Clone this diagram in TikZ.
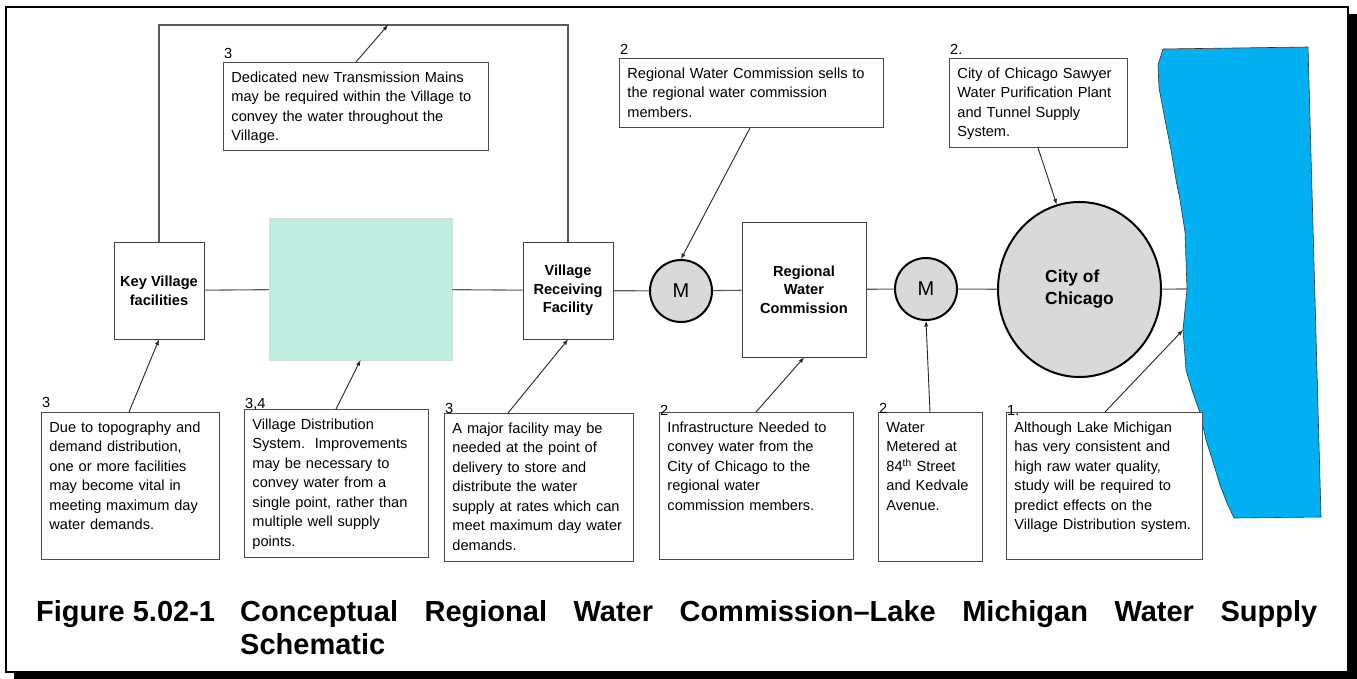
\documentclass[tikz,border=0pt]{standalone}
\usepackage{fontspec}
\setmainfont{Liberation Sans}
\usetikzlibrary{positioning,shapes.geometric}
\definecolor{poolteal}{HTML}{BEEEE2}
\definecolor{meterfill}{HTML}{D9D9D9}
\definecolor{lakeblue}{HTML}{00B0F0}

\begin{document}
\begin{tikzpicture}[
  x=1pt, y=-1pt,
  facility/.style={rectangle, draw=black!75, fill=white, line width=0.9pt, align=center, inner sep=2pt, font=\fontsize{14.6}{18.6}\selectfont\bfseries},
  meter/.style={circle, draw=black, line width=2pt, fill=meterfill, minimum size=62pt, inner sep=0pt, font=\fontsize{20}{24}\selectfont},
  note/.style={rectangle, draw=black!70, line width=0.9pt, fill=white, anchor=north west, align=left, inner xsep=8pt, inner ysep=8pt, text height=12pt, font=\fontsize{14.6}{19.5}\selectfont},
  num/.style={anchor=base west, inner sep=0pt, xshift=1pt, font=\fontsize{14.6}{17}\selectfont},
  pipe/.style={draw=black!65, line width=1.1pt},
  arrow/.style={-latex, line width=0.9pt, draw=black!85}
]
  \useasboundingbox (0,0) rectangle (1357,679);
  % page frame with shadow
  \fill (14,14) rectangle (1357,679);
  \draw [line width=2.5pt, fill=white] (6,7) rectangle (1348,672);

  % Lake Michigan
  \fill [lakeblue, draw=black!80, line width=0.6pt] (1163,49) -- (1158,65) -- (1159,88) -- (1166,125) -- (1171,150) -- (1176,180)
    -- (1180,200) -- (1185,232) -- (1187,289) -- (1183,330) -- (1186,370) -- (1192,390) -- (1200,413) -- (1206,440)
    -- (1213,462) -- (1220,485) -- (1227,503) -- (1234,518) -- (1321,517) -- (1308,47) -- cycle;
  \coordinate (landfall) at (1187,289);
  \coordinate (shore) at (1183,330);
  \coordinate (looptop) at (388,25);

  % supply chain
  \node (key) [facility, minimum width=90pt, minimum height=97pt] at (159,290.5) {Key Village\\facilities};
  \node (distsys) [rectangle, draw=black!15, fill=poolteal, minimum width=183pt, minimum height=142pt] at (360.5,289) {};
  \node (recv) [facility, minimum width=90pt, minimum height=97pt] at (568,290.5) {Village\\Receiving\\Facility};
  \node (meterA) [meter] at (681,291) {M};
  \node (rwc) [facility, minimum width=124pt, minimum height=135pt] at (804,289.5) {Regional\\Water\\Commission};
  \node (meterB) [meter] at (926,289) {M};
  \node (chicago) [ellipse, draw=black, line width=2pt, fill=meterfill, minimum width=163pt, minimum height=175pt, inner sep=0pt, align=left,
    font=\fontsize{17.4}{22}\selectfont\bfseries] at (1079.5,289.5) {City of\\Chicago};

  \draw [pipe] (key) -- (distsys) -- (recv) -- (meterA) -- (rwc) -- (meterB) -- (chicago);
  \draw [pipe] (chicago) -- (landfall);
  \draw [pipe] (key.north) |- (looptop) -| (recv.north);

  % notes above
  \node (noteG) [note, text width=249pt, text depth=60pt] at (223,62) {Dedicated new Transmission Mains\\may be required within the Village to\\convey the water throughout the\\Village.};
  \node (noteH) [note, text width=248pt, text depth=41pt] at (619,58) {Regional Water Commission sells to\\the regional water commission\\members.};
  \node (noteI) [note, text width=162pt, text depth=61pt] at (949,58) {City of Chicago Sawyer\\Water Purification Plant\\and Tunnel Supply\\System.};

  % notes below
  \node (noteA) [note, text width=162pt, text depth=119pt] at (41,412) {Due to topography and\\demand distribution,\\one or more facilities\\may become vital in\\meeting maximum day\\water demands.};
  \node (noteB) [note, text width=168pt, text depth=120pt] at (244,409) {Village Distribution\\System.\ \ Improvements\\may be necessary to\\convey water from a\\single point, rather than\\multiple well supply\\points.};
  \node (noteC) [note, text width=173pt, text depth=120pt] at (444,413) {A major facility may be\\needed at the point of\\delivery to store and\\distribute the water\\supply at rates which can\\meet maximum day water\\demands.};
  \node (noteD) [note, text width=178pt, text depth=119pt] at (659,412) {Infrastructure Needed to\\convey water from the\\City of Chicago to the\\regional water\\commission members.};
  \node (noteE) [note, text width=88pt, text depth=121pt] at (878,412) {Water\\Metered at\\84\textsuperscript{th} Street\\and Kedvale\\Avenue.};
  \node (noteF) [note, text width=180pt, text depth=119pt] at (1006,412) {Although Lake Michigan\\has very consistent and\\high raw water quality,\\study will be required to\\predict effects on the\\Village Distribution system.};

  % reference numbers
  \node (numG) [num, yshift=3pt] at (noteG.north west) {3};
  \node (numH) [num, yshift=3pt] at (noteH.north west) {2};
  \node (numI) [num, yshift=3pt] at (noteI.north west) {2.};
  \node (numA) [num, yshift=4.5pt] at (noteA.north west) {3};
  \node (numB) [num, yshift=1pt] at (noteB.north west) {3,4};
  \node (numC) [num, yshift=0pt] at (noteC.north west) {3};
  \node (numD) [num, yshift=-3pt] at (noteD.north west) {2};
  \node (numE) [num, yshift=-1pt] at (noteE.north west) {2};
  \node (numF) [num, yshift=-3pt] at (noteF.north west) {1.};

  \draw [arrow] ([xshift=133pt]noteG.north west) -- (looptop);
  \draw [arrow] ([xshift=131pt]noteH.south west) -- (meterA.north);
  \draw [arrow] ([xshift=89pt]noteI.south west) -- (chicago.105);
  \draw [arrow] ([xshift=88pt]noteA.north west) -- (key.south);
  \draw [arrow] ([xshift=92pt]noteB.north west) -- (distsys.south);
  \draw [arrow] ([xshift=64pt]noteC.north west) -- (recv.south);
  \draw [arrow] ([xshift=97pt]noteD.north west) -- (rwc.south);
  \draw [arrow] ([xshift=52pt]noteE.north west) -- (meterB.south);
  \draw [arrow] ([xshift=99pt]noteF.north west) -- (shore);

  % caption
  \node (capline) [anchor=base west, inner sep=0pt, font=\fontsize{29}{33}\selectfont\bfseries] at (36,621)
    {\makebox[204pt][l]{Figure 5.02-1}\makebox[1077pt][s]{Conceptual Regional Water Commission–Lake Michigan Water Supply}};
  \node (capline2) [anchor=base west, inner sep=0pt, font=\fontsize{29}{33}\selectfont\bfseries] at (240,654) {Schematic};
\end{tikzpicture}
\end{document}
